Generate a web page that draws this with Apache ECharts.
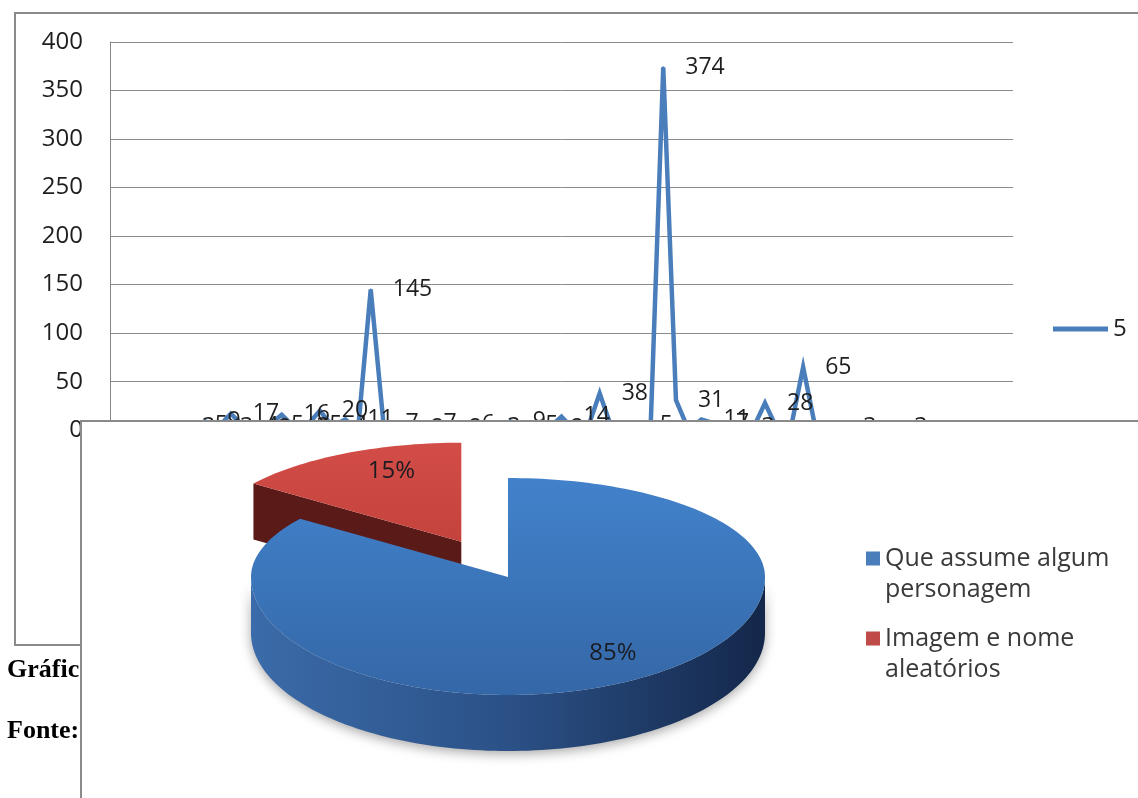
<!DOCTYPE html>
<html>
<head>
<meta charset="utf-8">
<script src="https://cdn.jsdelivr.net/npm/echarts/dist/echarts.min.js"></script>
<style>
html,body{margin:0;padding:0;background:#fff;overflow:hidden}
#c{width:1138px;height:798px}
</style>
</head>
<body>
<div id="c"></div>
<script>
// ---- Line chart data (background chart) ----
const categories = ['1','2','3','4','5','6','7','8','9','10','11','12','13','14','15','16','17','18','19','20',
  '21','22','23','24','25','26','27','28','29','30','31','32','33','34','35','36','37','38','39','40',
  '41','42','43','44','45','46','47','48','49','50','51','52','53','54','55','56','57','58','59','60',
  '61','62','63','64','65','66','67','68','69','70','71'];
const lineValues = [0,0,0,0,0,3,5,9,3,17, 4,2,5,16,3,5,20,4,11,0,
  145,7,0,2,7,0,2,6,0,3, 0,9,5,0,2,14,0,0,38,0,
  0,5,0,374,31,0,11,7,0,3, 0,28,0,0,65,0,0,3,0,0,
  0,3,0,0,0,0,0,0,0,0,0];
const lineSeriesName = '5';
const yMin = 0, yMax = 400, yStep = 50;

// ---- Pie chart data (foreground chart) ----
const pieNames = ['Que assume algum personagem', 'Imagem e nome aleatórios'];
const pieValues = [85, 15];

// ---- Caption fragments visible at the left ----
const captionTexts = ['Gráfic', 'Fonte:'];

// ---- Layout / style constants ----
const PIE = { cx: 508, cy: 577, rx: 257, rBack: 99, rFront: 118, depth: 56 };
const PIE_EXPLODE = [0, 0.4];
const PIE_LABEL_FRAC = [[0.9, 0.72], [0.6, 0.8]];
const PIE_STYLE = [
  { top: [{offset:0,color:'#4282cb'},{offset:1,color:'#3467a7'}],
    wall: [{offset:0,color:'#3b6ba9'},{offset:0.5,color:'#2b5187'},{offset:1,color:'#14274a'}],
    side: '#1f3a63', legend: '#4a7ebb' },
  { top: [{offset:0,color:'#d34d48'},{offset:1,color:'#b2352f'}],
    wall: [{offset:0,color:'#7a2220'},{offset:1,color:'#4a1311'}],
    side: '#5a1a18', legend: '#be4b48' }
];

function ept(cx, cy, th, dy) {
  const c = Math.cos(th), s = Math.sin(th);
  return [cx + PIE.rx * s, cy - (c >= 0 ? PIE.rBack : PIE.rFront) * c + (dy || 0)];
}
function arcPts(cx, cy, a0, a1, dy) {
  const n = Math.max(2, Math.ceil((a1 - a0) / (Math.PI / 120)));
  const pts = [];
  for (let k = 0; k <= n; k++) pts.push(ept(cx, cy, a0 + (a1 - a0) * k / n, dy));
  return pts;
}
function makeSliceRender(i) {
  return function (params, api) {
    const total = pieValues.reduce((a, b) => a + b, 0);
    let before = 0;
    for (let k = 0; k < i; k++) before += pieValues[k];
    const v = api.value(0);
    const a0 = before / total * 2 * Math.PI;
    const a1 = (before + v) / total * 2 * Math.PI;
    const mid = (a0 + a1) / 2;
    const m = ept(0, 0, mid);
    const e = PIE_EXPLODE[i];
    const cx = PIE.cx + e * m[0], cy = PIE.cy + e * m[1];
    const D = PIE.depth;
    const st = PIE_STYLE[i];
    const children = [];
    if (Math.sin(a0) < -1e-6) {
      const p = ept(cx, cy, a0);
      children.push({ type: 'polygon', shape: { points: [[cx, cy], p, [p[0], p[1] + D], [cx, cy + D]] },
        style: { fill: st.side } });
    }
    if (Math.sin(a1) > 1e-6) {
      const p = ept(cx, cy, a1);
      children.push({ type: 'polygon', shape: { points: [[cx, cy], p, [p[0], p[1] + D], [cx, cy + D]] },
        style: { fill: st.side } });
    }
    const f0 = Math.max(a0, Math.PI / 2), f1 = Math.min(a1, 3 * Math.PI / 2);
    if (f1 > f0) {
      const top = arcPts(cx, cy, f0, f1, 0);
      const bot = arcPts(cx, cy, f0, f1, D).reverse();
      children.push({ type: 'polygon', shape: { points: top.concat(bot) },
        style: { fill: new echarts.graphic.LinearGradient(cx - PIE.rx, 0, cx + PIE.rx, 0, st.wall, true),
          shadowBlur: 12, shadowColor: 'rgba(0,0,0,0.35)', shadowOffsetY: 3 } });
    }
    children.push({ type: 'polygon', shape: { points: [[cx, cy]].concat(arcPts(cx, cy, a0, a1, 0)) },
      style: { fill: new echarts.graphic.LinearGradient(0, cy - PIE.rBack, 0, cy + PIE.rFront, st.top, true) } });
    const lf = PIE_LABEL_FRAC[i];
    children.push({ type: 'text', style: {
      x: cx + lf[0] * m[0], y: cy + lf[1] * m[1],
      text: Math.round(v / total * 100) + '%', font: '24px "Open Sans"', fill: '#1a1c22',
      align: 'center', verticalAlign: 'middle' } });
    return { type: 'group', children: children };
  };
}

const chart = echarts.init(document.getElementById('c'), null, { renderer: 'canvas' });

const pieSeries = pieNames.map((name, i) => ({
  type: 'custom', name: name, coordinateSystem: 'none', silent: true,
  data: [[pieValues[i]]], renderItem: makeSliceRender(i),
  itemStyle: { color: PIE_STYLE[i].legend }, z: i === 0 ? 22 : 21
}));

const option = {
  animation: false,
  backgroundColor: '#ffffff',
  grid: { left: 110, right: 125, top: 42, bottom: 367.8, outerBoundsMode: 'none' },
  xAxis: {
    type: 'category', data: categories, boundaryGap: true,
    axisLine: { show: true, lineStyle: { color: '#868686', width: 1 } },
    axisTick: { show: false }, axisLabel: { show: false }, splitLine: { show: false }
  },
  yAxis: {
    type: 'value', min: yMin, max: yMax, interval: yStep,
    axisLine: { show: true, lineStyle: { color: '#868686', width: 1 } },
    axisTick: { show: false },
    axisLabel: { fontSize: 24, fontFamily: 'Open Sans', color: '#1e1e1e', margin: 27 },
    splitLine: { show: true, lineStyle: { color: '#8a8a8a', width: 1 } }
  },
  legend: [
    { data: [lineSeriesName], left: 1053, top: 316, orient: 'vertical', icon: 'rect', padding: 0,
      itemWidth: 55, itemHeight: 5, itemGap: 10, itemTextGap: 3, selectedMode: false,
      textStyle: { fontSize: 24, fontFamily: 'Open Sans', color: '#1e1e1e', lineHeight: 26 } },
    { data: pieNames, left: 866, top: 543, orient: 'vertical', z: 40, selectedMode: false, padding: 0,
      icon: 'path://M0,0L0.01,0M0,8.5L14,8.5L14,22.5L0,22.5ZM0,62L0.01,62',
      itemWidth: 14, itemHeight: 62, itemGap: 18, itemTextGap: 13,
      itemStyle: { borderWidth: 0 },
      formatter: function (name) { const k = name.lastIndexOf(' '); return name.slice(0, k) + '\n' + name.slice(k + 1); },
      textStyle: { fontSize: 25, fontFamily: 'Open Sans', color: '#3a3a3a', lineHeight: 31 } }
  ],
  graphic: [
    { type: 'rect', z: 0, silent: true, shape: { x: 15, y: 13, width: 1300, height: 632 },
      style: { fill: 'none', stroke: '#8a8a8a', lineWidth: 2 } },
    { type: 'text', z: 0, silent: true, style: { x: 7, y: 670, text: captionTexts[0],
      font: 'bold 26px "Liberation Serif"', fill: '#000', verticalAlign: 'middle' } },
    { type: 'text', z: 0, silent: true, style: { x: 7, y: 731, text: captionTexts[1],
      font: 'bold 26px "Liberation Serif"', fill: '#000', verticalAlign: 'middle' } },
    { type: 'rect', z: 10, silent: true, shape: { x: 81, y: 421, width: 1200, height: 500 },
      style: { fill: '#ffffff', stroke: '#8a8a8a', lineWidth: 2 } }
  ],
  series: [
    { type: 'line', name: lineSeriesName, data: lineValues, z: 2,
      symbol: 'circle', symbolSize: 2, showSymbol: true, showAllSymbol: true,
      lineStyle: { color: '#4a7ebb', width: 4.5, join: 'miter' },
      itemStyle: { color: '#4a7ebb' },
      label: { show: true, position: 'right', distance: 21, fontSize: 23, fontFamily: 'Open Sans', color: '#1e1e1e' },
      emphasis: { disabled: true }, silent: true }
  ].concat(pieSeries)
};
chart.setOption(option);
</script>
</body>
</html>
